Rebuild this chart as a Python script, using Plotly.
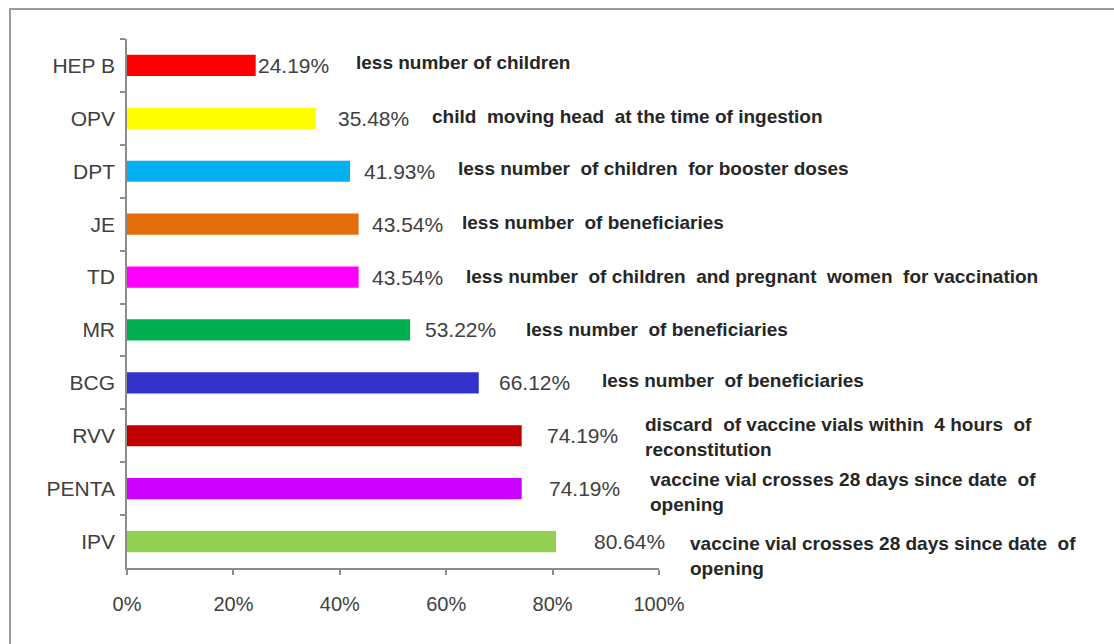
import plotly.graph_objects as go

# ---------------- data ----------------
vaccines = ["HEP B", "OPV", "DPT", "JE", "TD", "MR", "BCG", "RVV", "PENTA", "IPV"]
percent = [24.19, 35.48, 41.93, 43.54, 43.54, 53.22, 66.12, 74.19, 74.19, 80.64]
reasons = [
    "less number of children",
    "child  moving head  at the time of ingestion",
    "less number  of children  for booster doses",
    "less number  of beneficiaries",
    "less number  of children  and pregnant  women  for vaccination",
    "less number  of beneficiaries",
    "less number  of beneficiaries",
    "discard  of vaccine vials within  4 hours  of<br>reconstitution",
    "vaccine vial crosses 28 days since date  of<br>opening",
    "vaccine vial crosses 28 days since date  of<br>opening",
]
tick_vals = [0, 20, 40, 60, 80, 100]

# ---------------- styling / layout ----------------
colors = ["#FF0000", "#FFFF00", "#00B0F0", "#E46C0A", "#FF00FF",
          "#00B050", "#3333CC", "#C00000", "#CC00FF", "#92D050"]
# label anchor positions (axis units) as placed manually in the original
value_label_x = [24.3, 39.3, 44.2, 45.7, 45.7, 55.6, 69.5, 78.6, 78.9, 87.4]
reason_label_x = [42.7, 57.0, 61.8, 62.6, 63.3, 74.6, 88.9, 97.0, 97.9, 105.5]
reason_yshift = [3, 2, 3, 2, 1, 0, 2, -1, -3, -14]

W, H = 1114, 644
L, R, T, B = 127, 659, 39, 568
X_MAX = 100

fig = go.Figure()
fig.add_trace(go.Bar(
    y=vaccines, x=percent, orientation="h",
    marker=dict(color=colors, line=dict(width=0)),
    width=0.4, hoverinfo="x+y",
))

ann = []
for v, p, r, vx, rx, ys in zip(vaccines, percent, reasons, value_label_x, reason_label_x, reason_yshift):
    ann.append(dict(x=vx / X_MAX, y=v, xref="paper", yref="y", text=f"{p:.2f}%", showarrow=False,
                    xanchor="left", yanchor="middle",
                    font=dict(family="Liberation Sans, Arial", size=21, color="#404040")))
    ann.append(dict(x=rx / X_MAX, y=v, xref="paper", yref="y", text=r, showarrow=False,
                    xanchor="left", yanchor="middle", align="left", yshift=ys,
                    font=dict(family="Liberation Sans, Arial", size=19,
                              color="#262626", weight="bold")))

def px_x(px):
    return (px - L) / (R - L)

def px_y(py):
    return (B - py) / (B - T)

fig.update_layout(
    width=W, height=H, autosize=False,
    margin=dict(l=L, r=W - R, t=T, b=H - B, pad=0),
    paper_bgcolor="white", plot_bgcolor="white",
    showlegend=False, bargap=0.6,
    annotations=ann,
    shapes=[dict(type="rect", xref="paper", yref="paper",
                 x0=px_x(10), x1=px_x(1120), y0=px_y(650), y1=px_y(9),
                 line=dict(color="#9a9a9a", width=2), layer="below")],
    xaxis=dict(range=[0, X_MAX], tickvals=tick_vals,
               ticktext=[f"{t}%" for t in tick_vals],
               showgrid=False, zeroline=False, showline=True,
               linecolor="#8c8c8c", linewidth=1.5,
               ticks="outside", ticklen=5, tickcolor="#8c8c8c", tickwidth=1.5,
               ticklabelstandoff=12,
               tickfont=dict(family="Liberation Sans, Arial", size=20, color="#404040")),
    yaxis=dict(type="category", categoryorder="array", categoryarray=vaccines,
               autorange="reversed", showgrid=False, zeroline=False, showline=True,
               linecolor="#8c8c8c", linewidth=1.5,
               ticks="outside", ticklen=5, tickcolor="#8c8c8c", tickwidth=1.5,
               tickson="boundaries", ticklabelstandoff=6,
               tickfont=dict(family="Liberation Sans, Arial", size=21, color="#404040")),
)

fig.write_html("out.html")
